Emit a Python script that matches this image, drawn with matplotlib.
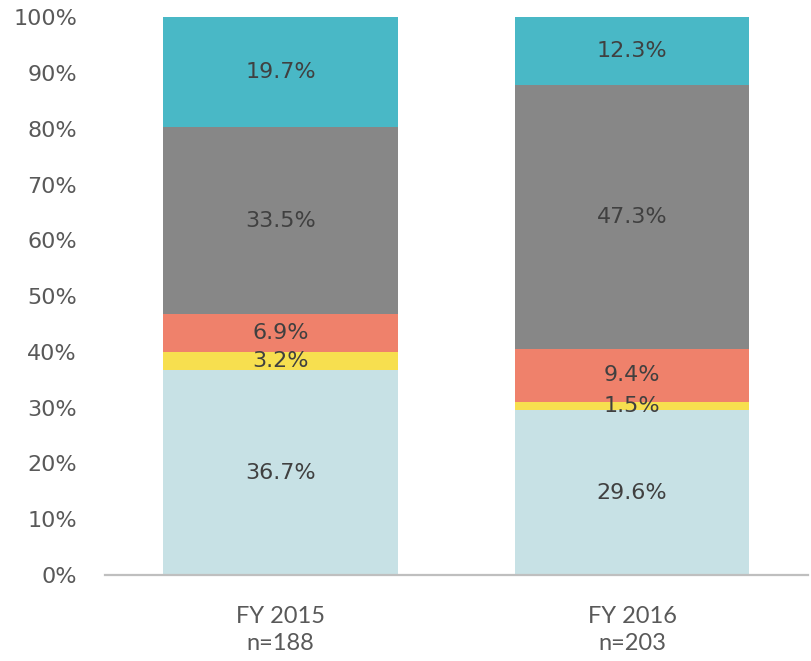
import matplotlib
matplotlib.use("Agg")
import matplotlib.pyplot as plt
import numpy as np

categories = ["FY 2015\nn=188", "FY 2016\nn=203"]
segment_colors = ["#C7E1E5", "#F7DF4F", "#EF816B", "#878787", "#49B8C6"]
# stacked from bottom to top
seg_bottom = [36.7, 29.6]
seg_yellow = [3.2, 1.5]
seg_salmon = [6.9, 9.4]
seg_grey = [33.5, 47.3]
seg_top = [19.7, 12.3]
series = [seg_bottom, seg_yellow, seg_salmon, seg_grey, seg_top]
y_ticks = [0, 10, 20, 30, 40, 50, 60, 70, 80, 90, 100]

fig = plt.figure(figsize=(8.12, 6.61), dpi=100)
ax = fig.add_axes([0.129, 0.130, 0.866, 0.844])

x = np.arange(len(categories))
base = np.zeros(len(categories))
for vals, col in zip(series, segment_colors):
    vals = np.array(vals)
    ax.bar(x, vals, bottom=base, width=0.666, color=col, edgecolor="none", zorder=2)
    for xi, b, v in zip(x, base, vals):
        ax.text(xi, b + v / 2, f"{v:.1f}%", ha="center", va="center",
                fontsize=16, color="#404040", family="DejaVu Sans", zorder=3)
    base = base + vals

ax.set_xlim(-0.5, 1.5)
ax.set_ylim(0, 100)
ax.set_yticks(y_ticks)
ax.set_yticklabels([f"{t}%" for t in y_ticks], fontsize=16, color="#595959",
                   family="DejaVu Sans")
ax.set_xticks(x)
ax.set_xticklabels(categories, fontsize=17, color="#595959",
                   family=["Lato", "DejaVu Sans"], linespacing=1.4)
ax.tick_params(axis="y", length=0, pad=20)
ax.tick_params(axis="x", length=0, pad=22)

for side in ["top", "right", "left"]:
    ax.spines[side].set_visible(False)
ax.spines["bottom"].set_color("#BFBFBF")
ax.spines["bottom"].set_linewidth(1.6)

fig.savefig("out.png", dpi=100)
